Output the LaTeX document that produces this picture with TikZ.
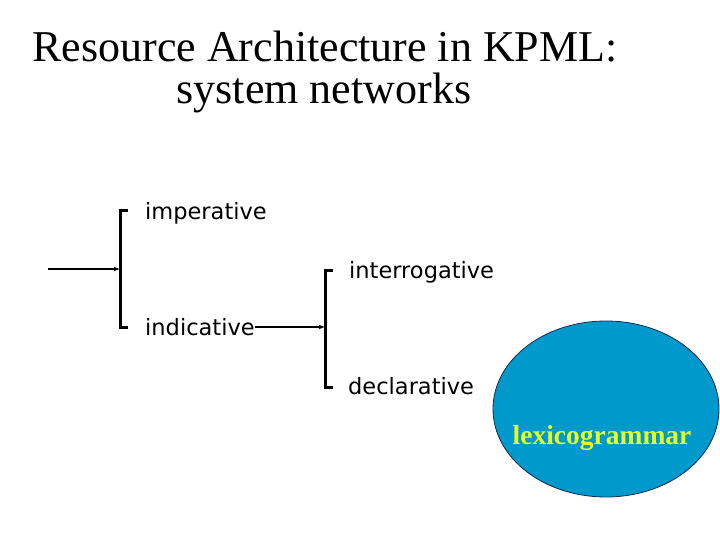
\documentclass[tikz,border=0pt]{standalone}
\usepackage{fontspec}
\setmainfont{Liberation Serif}
\newfontfamily\labelfont{DejaVu Sans}
\usetikzlibrary{arrows.meta,shapes.geometric,calc}
\definecolor{ellblue}{RGB}{0,153,204}
\definecolor{ellborder}{RGB}{20,40,80}
\definecolor{lexyellow}{RGB}{230,255,40}
\tikzset{
  feature/.style={anchor=base west,inner sep=0pt,font=\labelfont\fontsize{22.5}{26}\selectfont},
  bracketline/.style={line width=3pt},
  entry/.style={line width=1.8pt,-{Latex[length=6pt,width=5pt]}},
}
\begin{document}
\begin{tikzpicture}[x=1pt,y=-1pt]
\useasboundingbox (0,0) rectangle (720,540);
% title
\node[anchor=base,inner sep=0pt,font=\fontsize{44}{44}\selectfont] (t1) at (325,62) {Resource Architecture in KPML:};
\node[anchor=base,inner sep=0pt,font=\fontsize{44}{44}\selectfont] (t2) at (324,104) {system networks};
% first system
\coordinate (src) at (48,269);
\coordinate (b1top) at (120,211);
\coordinate (b1bot) at (120,327);
\coordinate (b1mid) at (120,269);
\draw[bracketline] ($(b1top)+(8,0)$) -- (b1top) -- (b1bot) -- ($(b1bot)+(8,0)$);
\draw[entry] (src) -- (b1mid);
\node[feature] (imp) at (145,219) {imperative};
\node[feature] (ind) at (145,335) {indicative};
% second system
\coordinate (b2top) at (325,270);
\coordinate (b2bot) at (325,387);
\coordinate (b2mid) at (325,327);
\draw[bracketline] ($(b2top)+(8,0)$) -- (b2top) -- (b2bot) -- ($(b2bot)+(8,0)$);
\draw[entry] (ind.east |- b2mid) -- (b2mid);
\node[feature] (int) at (349,278) {interrogative};
\node[feature] (dec) at (348,394) {declarative};
% lexicogrammar
\node[ellipse,draw=ellborder,line width=0.8pt,fill=ellblue,minimum width=226,minimum height=176,inner sep=0pt] (lex) at (606,409) {};
\node[anchor=base,inner sep=0pt,text=lexyellow,font=\bfseries\fontsize{27.5}{27.5}\selectfont] (lexlab) at (602,444) {lexicogrammar};
\end{tikzpicture}
\end{document}
